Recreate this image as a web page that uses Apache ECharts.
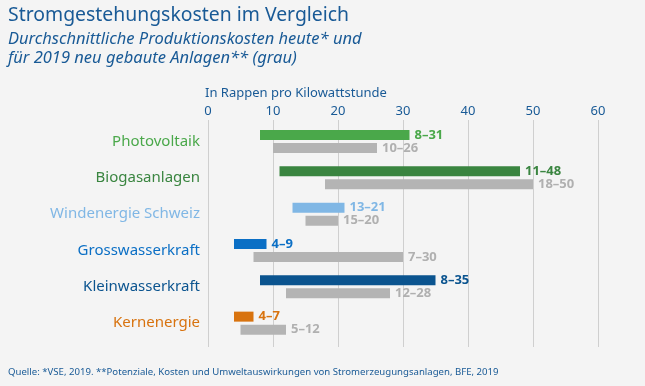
<!DOCTYPE html>
<html><head><meta charset="utf-8">
<script src="https://cdn.jsdelivr.net/npm/echarts@6/dist/echarts.min.js"></script>
<style>html,body{margin:0;padding:0;background:#f4f4f4}#c{width:645px;height:386px}</style>
</head><body><div id="c"></div>
<script>
var categories = ['Photovoltaik','Biogasanlagen','Windenergie Schweiz','Grosswasserkraft','Kleinwasserkraft','Kernenergie'];
var nowMin = [8, 11, 13, 4, 8, 4];
var nowMax = [31, 48, 21, 9, 35, 7];
var newMin = [10, 18, 15, 7, 12, 5];
var newMax = [26, 50, 20, 30, 28, 12];
var xTicks = [0, 10, 20, 30, 40, 50, 60];
var catColors = ['#4aa84a', '#3a8540', '#80b7e5', '#0b6fc5', '#0b548f', '#d8730f'];
var greyColor = '#b4b4b4';
var greyLabel = '#b0b0b0';
var FONT = '"Noto Sans", sans-serif';
var blue = '#195a96';

var chart = echarts.init(document.getElementById('c'));
var xMin = xTicks[0], xMax = xTicks[xTicks.length - 1], xInt = xTicks[1] - xTicks[0];

chart.setOption({
  backgroundColor: '#f4f4f4',
  textStyle: {fontFamily: FONT},
  title: [
    {text: 'Stromgestehungskosten im Vergleich', left: 8, top: 6, padding: 0,
     textStyle: {fontFamily: FONT, fontSize: 19.4, fontWeight: 'normal', color: blue}},
    {text: 'Durchschnittliche Produktionskosten heute* und\nfür 2019 neu gebaute Anlagen** (grau)', left: 8, top: 29.5, padding: 0,
     textStyle: {fontFamily: FONT, fontSize: 16.5, fontStyle: 'italic', fontWeight: 'normal', color: blue, lineHeight: 19}},
    {text: 'In Rappen pro Kilowattstunde', left: 205, top: 86.5, padding: 0,
     textStyle: {fontFamily: FONT, fontSize: 13, fontWeight: 'normal', color: blue}},
    {text: 'Quelle: *VSE, 2019. **Potenziale, Kosten und Umweltauswirkungen von Stromerzeugungsanlagen, BFE, 2019', left: 8, top: 367, padding: 0,
     textStyle: {fontFamily: FONT, fontSize: 9.6, fontWeight: 'normal', color: blue}}
  ],
  grid: [
    {left: 208, right: 47, top: 120, height: 227},
    {left: 208, right: 47, top: 123.3, height: 218}
  ],
  xAxis: [
    {gridIndex: 0, type: 'value', position: 'top', min: xMin, max: xMax, interval: xInt,
     axisLine: {show: false}, axisTick: {show: false},
     axisLabel: {margin: 2, fontSize: 13, color: blue, fontFamily: FONT},
     splitLine: {lineStyle: {color: '#cfcfcf', width: 1}}},
    {gridIndex: 1, type: 'value', min: xMin, max: xMax, interval: xInt, show: false}
  ],
  yAxis: [
    {gridIndex: 0, type: 'category', data: categories, show: false},
    {gridIndex: 1, type: 'category', inverse: true,
     data: categories.map(function (c, i) { return {value: c, textStyle: {color: catColors[i]}}; }),
     axisLine: {show: false}, axisTick: {show: false},
     axisLabel: {margin: 8, fontSize: 15, fontFamily: FONT}}
  ],
  series: [
    {type: 'bar', xAxisIndex: 1, yAxisIndex: 1, stack: 'now', barWidth: 10, barGap: '30%', silent: true,
     itemStyle: {color: 'transparent'}, data: nowMin},
    {type: 'bar', xAxisIndex: 1, yAxisIndex: 1, stack: 'now', barWidth: 10, barGap: '30%',
     data: nowMax.map(function (v, i) {
       return {value: v - nowMin[i], itemStyle: {color: catColors[i]}, label: {color: catColors[i]}};
     }),
     label: {show: true, position: 'right', distance: 5, fontSize: 13, fontWeight: 'bold', fontFamily: FONT,
       formatter: function (p) { return nowMin[p.dataIndex] + '–' + nowMax[p.dataIndex]; }}},
    {type: 'bar', xAxisIndex: 1, yAxisIndex: 1, stack: 'new', barWidth: 10, barGap: '30%', silent: true,
     itemStyle: {color: 'transparent'}, data: newMin},
    {type: 'bar', xAxisIndex: 1, yAxisIndex: 1, stack: 'new', barWidth: 10, barGap: '30%',
     itemStyle: {color: greyColor},
     data: newMax.map(function (v, i) { return v - newMin[i]; }),
     label: {show: true, position: 'right', distance: 5, fontSize: 13, fontWeight: 'bold', fontFamily: FONT, color: greyLabel,
       formatter: function (p) { return newMin[p.dataIndex] + '–' + newMax[p.dataIndex]; }}}
  ]
});
</script></body></html>
